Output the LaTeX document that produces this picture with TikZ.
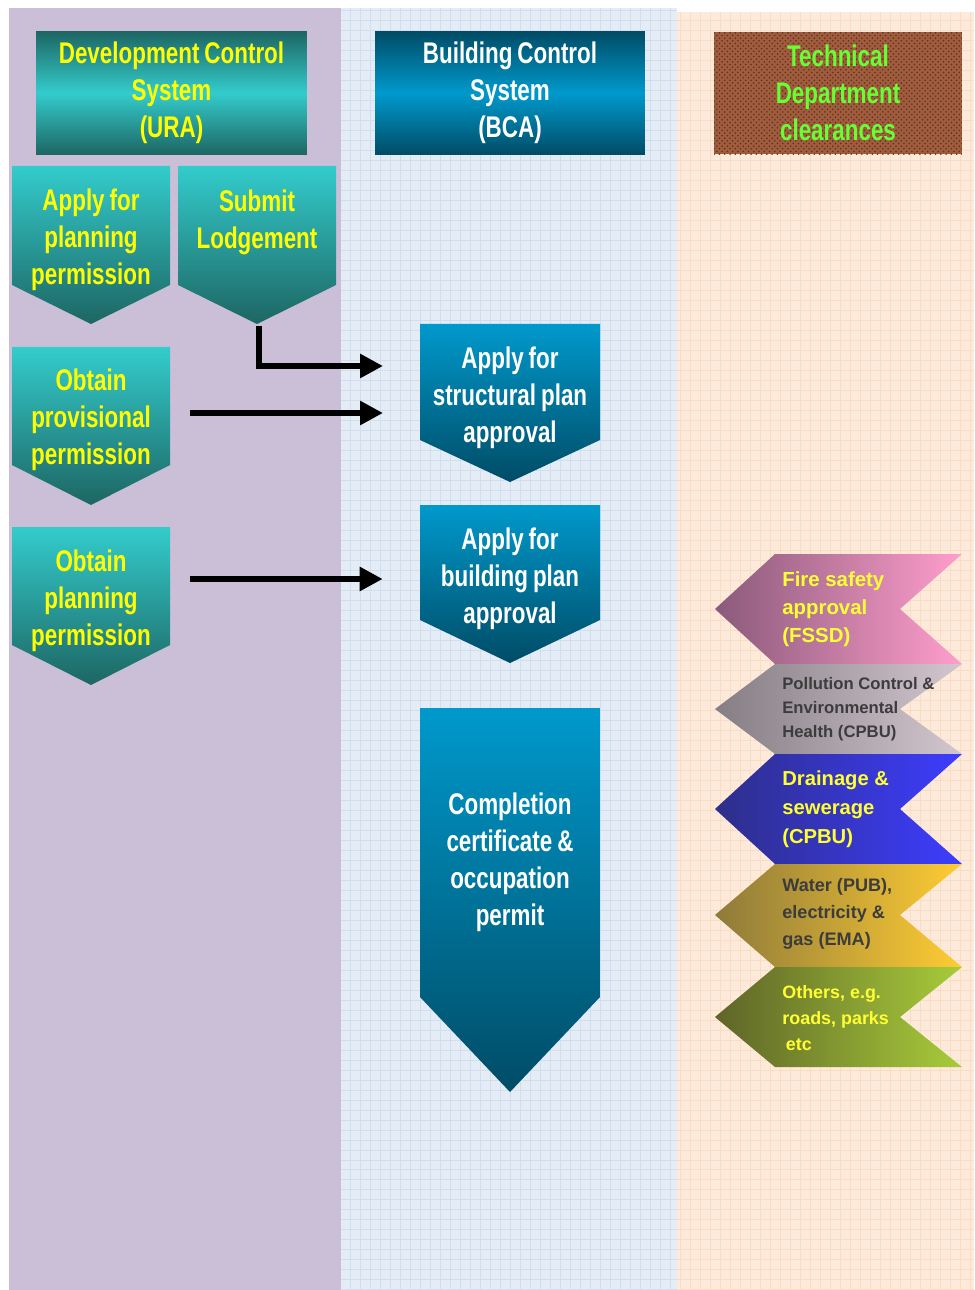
\documentclass[tikz,border=0pt]{standalone}
\usepackage{fontspec}
\setmainfont{Liberation Sans}
\newfontfamily\condsf{Liberation Sans}[FakeStretch=0.75, WordSpace=0.8]
\usetikzlibrary{arrows.meta,patterns}

\definecolor{uraBg}{HTML}{CBBFD7}
\definecolor{bcaBg}{HTML}{E4ECF6}
\definecolor{bcaGrid}{HTML}{D2DEEF}
\definecolor{techBg}{HTML}{FDEADA}
\definecolor{techGrid}{HTML}{FADCC3}
\definecolor{uraDark}{HTML}{1D6663}
\definecolor{uraLight}{HTML}{33CCCC}
\definecolor{uraYellow}{HTML}{FFFF00}
\definecolor{bcaDark}{HTML}{004C66}
\definecolor{bcaLight}{HTML}{0099CC}
\definecolor{techBrown}{HTML}{A05C3C}
\definecolor{techGreen}{HTML}{66FF33}
\definecolor{fireL}{HTML}{8A5A7A}
\definecolor{fireR}{HTML}{FF9ECC}
\definecolor{pollL}{HTML}{857E84}
\definecolor{pollR}{HTML}{D3C6CF}
\definecolor{drainL}{HTML}{2E2E8A}
\definecolor{drainR}{HTML}{3D3DFF}
\definecolor{waterL}{HTML}{8E7A3A}
\definecolor{waterR}{HTML}{FFCC33}
\definecolor{otherL}{HTML}{5E6428}
\definecolor{otherR}{HTML}{A8CC3A}
\definecolor{chevYellow}{HTML}{FFFF33}
\definecolor{chevGray}{HTML}{3C3C3C}

\tikzset{
  bigtext/.style={font=\condsf\bfseries\fontsize{17}{21}\selectfont, align=center, inner sep=0pt},
  header/.style={bigtext, minimum height=2.46cm},
  uratext/.style={bigtext, text=uraYellow, minimum width=3.16cm},
  bcatext/.style={bigtext, text=white, minimum width=3.6cm},
  uraChev/.style={top color=uraLight, bottom color=uraDark},
  bcaChev/.style={top color=bcaLight, bottom color=bcaDark},
  techtext/.style={anchor=west, align=left, inner sep=0pt},
  flowarrow/.style={line width=3.4pt, -{Triangle[length=0.46cm, width=0.46cm]}}
}

\begin{document}
\begin{tikzpicture}[x=0.02cm, y=-0.02cm]
  \useasboundingbox (0,0) rectangle (974,1290);

  % three columns
  \fill[uraBg] (9,8) rectangle (341,1290);
  \fill[bcaBg] (341,8) rectangle (677,1290);
  \draw[bcaGrid, line width=0.3pt, step=0.2cm] (341,8) grid (677,1290);
  \fill[techBg] (677,12) rectangle (974,1290);
  \draw[techGrid, line width=0.3pt, step=0.2cm] (677,12) grid (974,1290);

  % column headers
  \node[header, minimum width=5.42cm, top color=uraDark, bottom color=uraDark,
        middle color=uraLight, text=uraYellow] (devctl) at (171.5,93)
        {Development Control\\System\\(URA)};
  \node[header, minimum width=5.4cm, top color=bcaDark, bottom color=bcaDark,
        middle color=bcaLight, text=white] (bldctl) at (510,93)
        {Building Control\\System\\(BCA)};
  \node[header, minimum width=4.96cm, fill=techBrown, text=techGreen,
        postaction={pattern=crosshatch dots, pattern color=techBrown!55!black}] (tech) at (838,93)
        {Technical\\Department\\clearances};

  % URA steps
  \path[uraChev] (12,166) -- (170,166) -- (170,285) -- (91,324) -- (12,285) -- cycle;
  \node[uratext] (plan) at (91,240) {Apply for\\planning\\permission};
  \path[uraChev] (178,166) -- (336,166) -- (336,285) -- (257,324) -- (178,285) -- cycle;
  \node[uratext] (lodge) at (257,222) {Submit\\Lodgement};
  \coordinate (lodgetip) at (259,326);
  \path[uraChev] (12,347) -- (170,347) -- (170,465) -- (91,505) -- (12,465) -- cycle;
  \node[uratext] (prov) at (91,420) {Obtain\\provisional\\permission};
  \path[uraChev] (12,527) -- (170,527) -- (170,645) -- (91,685) -- (12,645) -- cycle;
  \node[uratext] (perm) at (91,601) {Obtain\\planning\\permission};

  % BCA steps
  \path[bcaChev] (420,324) -- (600,324) -- (600,440) -- (510,482) -- (420,440) -- cycle;
  \node[bcatext] (struct) at (510,398) {Apply for\\structural plan\\approval};
  \path[bcaChev] (420,505) -- (600,505) -- (600,620) -- (510,663) -- (420,620) -- cycle;
  \node[bcatext] (bplan) at (510,579) {Apply for\\building plan\\approval};
  \path[bcaChev] (420,708) -- (600,708) -- (600,997) -- (510,1092) -- (420,997) -- cycle;
  \node[bcatext] (compl) at (510,862) {Completion\\certificate \&\\occupation\\permit};

  % technical clearances
  \path[left color=fireL, right color=fireR] (715,609) -- (775,554) -- (962,554) -- (900,609) -- (962,664) -- (775,664) -- cycle;
  \path[left color=pollL, right color=pollR] (715,709) -- (775,664) -- (962,664) -- (900,709) -- (962,754) -- (775,754) -- cycle;
  \path[left color=drainL, right color=drainR] (715,809) -- (775,754) -- (962,754) -- (900,809) -- (962,864) -- (775,864) -- cycle;
  \path[left color=waterL, right color=waterR] (715,915) -- (775,864) -- (962,864) -- (900,915) -- (962,967) -- (775,967) -- cycle;
  \path[left color=otherL, right color=otherR] (715,1017) -- (775,967) -- (962,967) -- (900,1017) -- (962,1067) -- (775,1067) -- cycle;
  \node[techtext, text=chevYellow, font=\bfseries\fontsize{11.6}{15.9}\selectfont] (fire) at (782,609)
        {Fire safety\\approval\\(FSSD)};
  \node[techtext, text=chevGray, font=\bfseries\fontsize{9.5}{13.6}\selectfont] (pollution) at (782,709)
        {Pollution Control \&\\Environmental\\Health (CPBU)};
  \node[techtext, text=chevYellow, font=\bfseries\fontsize{11.5}{16.4}\selectfont] (drainage) at (782,809)
        {Drainage \&\\sewerage\\(CPBU)};
  \node[techtext, text=chevGray, font=\bfseries\fontsize{10.3}{15.3}\selectfont] (utility) at (782,914)
        {Water (PUB),\\electricity \&\\gas (EMA)};
  \node[techtext, text=chevYellow, font=\bfseries\fontsize{10.2}{14.7}\selectfont] (others) at (782,1018)
        {Others, e.g.\\roads, parks\\\hspace{0.2em}etc};

  % links
  \coordinate (in1) at (383,366);
  \coordinate (in2) at (383,413);
  \draw[flowarrow] (lodgetip) |- (in1);
  \draw[flowarrow, shorten <=0.4cm] (prov.east |- in2) -- (in2);
  \draw[flowarrow, shorten <=0.4cm, shorten >=0.74cm] (perm.east |- bplan.west) -- (bplan.west);
\end{tikzpicture}
\end{document}
